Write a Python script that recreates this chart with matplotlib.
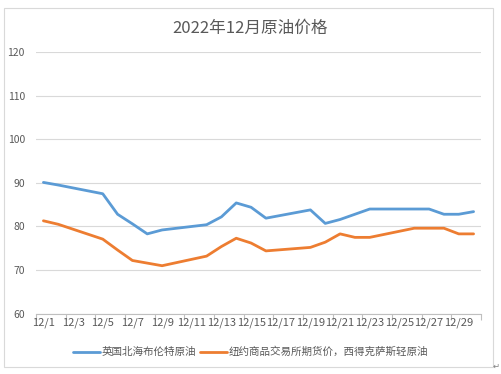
import numpy as np
import matplotlib
matplotlib.use("Agg")
import matplotlib.pyplot as plt
from matplotlib.patches import Rectangle

plt.rcParams['font.family'] = ['Noto Sans CJK SC', 'DejaVu Sans']

title = "2022年12月原油价格"
days = [f"12/{d}" for d in range(1, 31)]
nan = np.nan
brent = [90.1, 89.5, nan, nan, 87.5, 82.8, 80.6, 78.3, 79.2, nan,
         nan, 80.4, 82.2, 85.4, 84.4, 81.9, nan, nan, 83.8, 80.7,
         81.6, 82.8, 84.0, nan, nan, nan, 84.0, 82.8, 82.8, 83.4]
wti = [81.3, 80.5, nan, nan, 77.1, 74.6, 72.2, 71.6, 71.0, nan,
       nan, 73.2, 75.4, 77.3, 76.2, 74.4, nan, nan, 75.2, 76.4,
       78.3, 77.5, 77.5, nan, nan, 79.6, 79.6, 79.6, 78.3, 78.3]
series_names = ["英国北海布伦特原油", "纽约商品交易所期货价，西得克萨斯轻原油"]
yticks = [60, 70, 80, 90, 100, 110, 120]

W, H = 501, 374
fig = plt.figure(figsize=(W / 100, H / 100), dpi=100)
fig.patch.set_facecolor("white")

# outer border
fig.add_artist(Rectangle((4 / W, 1 - 367 / H), (493 - 4) / W, (367 - 8) / H,
                         transform=fig.transFigure, fill=False,
                         edgecolor="#D9D9D9", linewidth=0.8))

l, r, t, b = 36, 481, 52, 313.7
ax = fig.add_axes([l / W, 1 - b / H, (r - l) / W, (b - t) / H])

x = np.arange(len(days))
colors = ["#5B9BD5", "#ED7D31"]
for vals, c, name in zip([brent, wti], colors, series_names):
    v = np.array(vals, dtype=float)
    m = ~np.isnan(v)
    ax.plot(x[m], v[m], color=c, linewidth=2.0, label=name,
            solid_capstyle="round", solid_joinstyle="round")

ax.set_xlim(-0.5, len(days) - 0.5)
ax.set_ylim(60, 120)
ax.set_yticks(yticks)
ax.grid(axis="y", color="#D9D9D9", linewidth=0.8)
ax.set_axisbelow(True)
for s in ["top", "right", "left"]:
    ax.spines[s].set_visible(False)
ax.spines["bottom"].set_color("#BFBFBF")
ax.spines["bottom"].set_linewidth(0.8)

ax.set_xticks(np.arange(-0.5, len(days), 2))
ax.set_xticklabels([])
ax.set_xticks(x[::2], minor=True)
ax.set_xticklabels(days[::2], minor=True)
ax.tick_params(axis="x", which="major", length=4, color="#BFBFBF", width=0.8)
ax.tick_params(axis="x", which="minor", length=0, pad=3, labelsize=8,
               labelcolor="#595959")
ax.tick_params(axis="y", length=0, pad=8, labelsize=7.5, labelcolor="#595959")

fig.text(0.5, 1 - 28 / H, title, ha="center", va="center", fontsize=12,
         color="#595959")

leg = fig.legend(loc="center", bbox_to_anchor=(0.5, 1 - 352 / H), ncol=2,
                 frameon=False, fontsize=7.6, handlelength=2.6,
                 handletextpad=0.15, columnspacing=0.3, labelcolor="#595959")
for line in leg.get_lines():
    line.set_linewidth(2.0)

fig.text(496 / W, 1 - 366 / H, "↵", ha="center", va="center", fontsize=6,
         color="#808080", family=["DejaVu Sans"])

fig.savefig("out.png", dpi=100)
